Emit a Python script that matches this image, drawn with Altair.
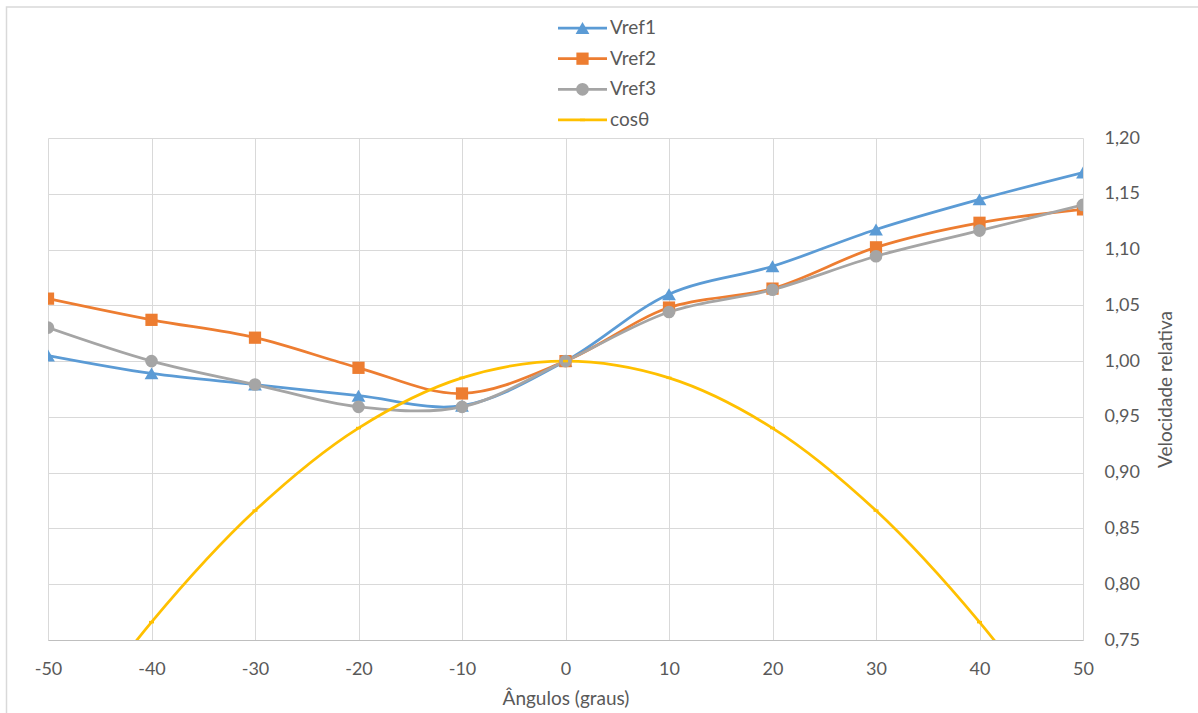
import altair as alt
import pandas as pd

angles = [-50, -40, -30, -20, -10, 0, 10, 20, 30, 40, 50]
vref1 = [1.005, 0.989, 0.979, 0.969, 0.960, 1.000, 1.060, 1.085, 1.118, 1.145, 1.169]
vref2 = [1.056, 1.037, 1.021, 0.994, 0.971, 1.000, 1.048, 1.065, 1.102, 1.124, 1.136]
vref3 = [1.030, 1.000, 0.979, 0.959, 0.959, 1.000, 1.044, 1.064, 1.094, 1.117, 1.140]
cos_t = [0.643, 0.766, 0.866, 0.940, 0.985, 1.000, 0.985, 0.940, 0.866, 0.766, 0.643]

series_names = ["Vref1", "Vref2", "Vref3", "cosθ"]
series_values = [vref1, vref2, vref3, cos_t]
colors = ["#5B9BD5", "#ED7D31", "#A5A5A5", "#FFC000"]
y_ticks = [0.75, 0.80, 0.85, 0.90, 0.95, 1.00, 1.05, 1.10, 1.15, 1.20]

rows = []
for name, vals in zip(series_names, series_values):
    for a, v in zip(angles, vals):
        rows.append({"angle": a, "value": v, "series": name})
df = pd.DataFrame(rows)
legend_df = pd.DataFrame({"series": series_names})

FONT = "Lato"
TXT = "#595959"

x_enc = alt.X("angle:Q",
              scale=alt.Scale(domain=[-50, 50], nice=False, zero=False),
              axis=alt.Axis(values=angles, title="Ângulos (graus)",
                            labelExpr="datum.value + ''", labelFlush=False,
                            labelPadding=20, titlePadding=11,
                            domain=True, domainColor="#BFBFBF", domainWidth=1))
y_enc = alt.Y("value:Q",
              scale=alt.Scale(domain=[0.75, 1.2], nice=False, zero=False),
              axis=alt.Axis(orient="right", values=y_ticks, title="Velocidade relativa",
                            labelExpr="replace(format(datum.value, '.2f'), '.', ',')",
                            labelPadding=21, titleAngle=270,
                            titleX=82, titleY=251, titleAlign="center", titleBaseline="middle",
                            domain=False))

color_scale = alt.Scale(domain=series_names, range=colors)
color = alt.Color("series:N", scale=color_scale, legend=None)

base = alt.Chart(df).encode(x=x_enc, y=y_enc)

lines = base.mark_line(interpolate="catmull-rom", strokeWidth=2.75, clip=True).encode(color=color)

marker_specs = [
    ("Vref1", "triangle-up", 190),
    ("Vref2", "square", 150),
    ("Vref3", "circle", 160),
    ("cosθ", "M-1,-0.5H1V0.5H-1Z", 25),
]
point_layers = []
for name, shp, sz in marker_specs:
    point_layers.append(
        base.transform_filter(alt.datum.series == name)
        .mark_point(filled=True, opacity=1, shape=shp, size=sz, clip=True)
        .encode(color=color)
    )

plot = alt.layer(lines, *point_layers)

# legend drawn as marks (top centre, vertical); rows placed by a band scale
leg_y = alt.Y("series:N", scale=alt.Scale(domain=series_names, range=[-125.3, -2.7], padding=0), axis=None)
leg_base = alt.Chart(legend_df).encode(y=leg_y)
leg_rules = leg_base.mark_rule(strokeWidth=2.75).encode(x=alt.value(510), x2=alt.value(559), color=color)
leg_points = []
for name, shp, sz in marker_specs:
    leg_points.append(
        leg_base.transform_filter(alt.datum.series == name)
        .mark_point(filled=True, opacity=1, shape=shp, size=sz)
        .encode(x=alt.value(534.5), color=color)
    )
leg_text = leg_base.mark_text(align="left", baseline="middle", font=FONT, fontSize=19, color=TXT).encode(
    x=alt.value(562), text="series:N")
frame = alt.Chart(pd.DataFrame({"f": [0]})).mark_rect(fill=None, stroke="#D9D9D9", strokeWidth=1.5).encode(
    x=alt.value(-41.5), x2=alt.value(1200), y=alt.value(-131), y2=alt.value(620))

legend = alt.layer(frame, leg_rules, *leg_points, leg_text)

chart = (
    alt.layer(plot, legend)
    .resolve_scale(y="independent")
    .properties(width=1035, height=502,
                autosize=alt.AutoSizeParams(type="none"),
                padding={"left": 48, "top": 138, "right": 115, "bottom": 73})
    .configure(background="white")
    .configure_view(stroke=None)
    .configure_axis(grid=True, gridColor="#D9D9D9", gridWidth=1, ticks=False, tickSize=0,
                    labelFont=FONT, labelFontSize=18, labelColor=TXT,
                    titleFont=FONT, titleFontSize=19, titleColor=TXT, titleFontWeight="normal")
)

chart.save("out.html", embed_options={"renderer": "svg", "actions": False})
